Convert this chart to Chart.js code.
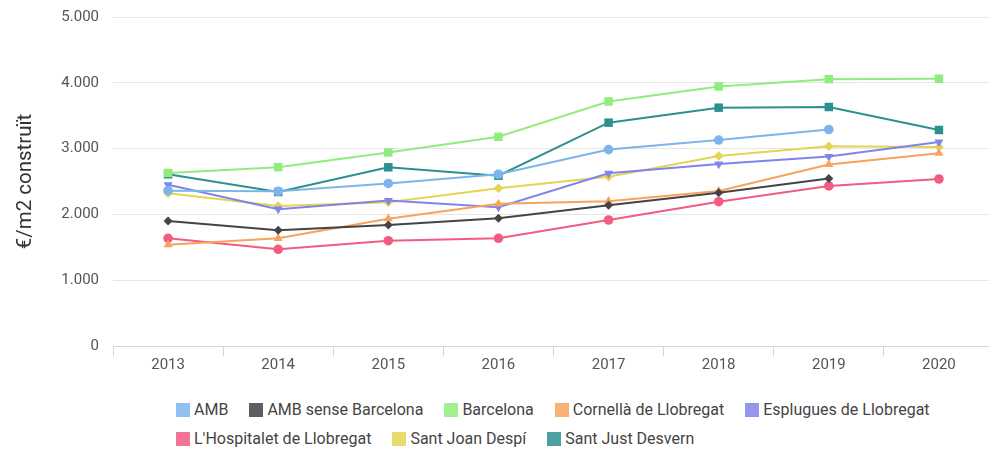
<!DOCTYPE html>
<html>
<head>
<meta charset="utf-8">
<script src="https://cdn.jsdelivr.net/npm/chart.js@4/dist/chart.umd.min.js"></script>
<style>
  html, body { margin: 0; padding: 0; background: #fff; overflow: hidden; width: 989px; height: 450px; }
  #wrap { position: absolute; left: 0; top: 0; width: 1000px; height: 380px; }
  #legend { position: absolute; left: 176px; top: 395px; width: 790px; display: flex; flex-wrap: wrap;
            font-family: Roboto, sans-serif; font-size: 16px; color: #444; }
  .item { display: flex; align-items: center; height: 29px; margin-right: 21px; white-space: nowrap; }
  .swatch { width: 14px; height: 14px; margin-right: 4px; opacity: 0.85; }
</style>
</head>
<body>
<div id="wrap"><canvas id="c"></canvas></div>
<div id="legend"></div>
<script>
// Preu mitjà de l'habitatge (€/m2 construït), 2013-2020
const years = ['2013', '2014', '2015', '2016', '2017', '2018', '2019', '2020'];
const yTickLabels = ['0', '1.000', '2.000', '3.000', '4.000', '5.000'];

const seriesNames = ['AMB', 'AMB sense Barcelona', 'Barcelona', 'Cornellà de Llobregat',
  'Esplugues de Llobregat', "L'Hospitalet de Llobregat", 'Sant Joan Despí', 'Sant Just Desvern'];

const amb               = [2360, 2350, 2470, 2610, 2985, 3130, 3290, null];
const ambSenseBarcelona = [1900, 1760, 1840, 1940, 2140, 2330, 2545, null];
const barcelona         = [2630, 2718, 2942, 3180, 3716, 3945, 4055, 4062];
const cornella          = [1540, 1637, 1935, 2160, 2200, 2355, 2758, 2930];
const esplugues         = [2450, 2080, 2210, 2110, 2625, 2765, 2880, 3100];
const hospitalet        = [1637, 1470, 1600, 1637, 1915, 2193, 2432, 2538];
const santJoan          = [2320, 2128, 2184, 2397, 2573, 2888, 3035, 3025];
const santJust          = [2609, 2340, 2716, 2588, 3394, 3622, 3632, 3283];

const seriesValues = [amb, ambSenseBarcelona, barcelona, cornella, esplugues, hospitalet, santJoan, santJust];
const colors = ['#7cb5ec', '#434348', '#90ed7d', '#f7a35c', '#8085e9', '#f15c80', '#e4d354', '#2b908f'];
const markers = ['circle', 'rectRot', 'rect', 'triangle', 'triangle', 'circle', 'rectRot', 'rect'];
const markerRadius = [4.8, 4.5, 6, 5.2, 5.2, 4.8, 4.8, 6];
const markerRotation = [0, 0, 0, 0, 180, 0, 0, 0];

const datasets = seriesNames.map((name, i) => ({
  label: name,
  data: seriesValues[i],
  borderColor: colors[i],
  backgroundColor: colors[i],
  pointBackgroundColor: colors[i],
  pointBorderColor: colors[i],
  pointBorderWidth: 0,
  pointStyle: markers[i],
  pointRadius: markerRadius[i],
  pointRotation: markerRotation[i],
  borderWidth: 2,
  tension: 0,
  spanGaps: false
}));

const tickFont = { family: 'Roboto', size: 15 };

new Chart(document.getElementById('c'), {
  type: 'line',
  data: { labels: years, datasets },
  options: {
    responsive: true,
    maintainAspectRatio: false,
    animation: false,
    layout: { padding: { top: 17, right: 3, bottom: 6, left: 0 } },
    plugins: { legend: { display: false }, tooltip: { enabled: false } },
    scales: {
      x: {
        offset: true,
        grid: { offset: true, drawOnChartArea: false, drawTicks: true, tickLength: 10, color: '#d6d6d6' },
        border: { display: true, color: '#d6d6d6', width: 1 },
        ticks: { color: '#555', font: tickFont, padding: 0, maxRotation: 0 }
      },
      y: {
        min: 0, max: 5000,
        afterFit: (scale) => { scale.width = 113; scale.paddingTop = 0; scale.paddingBottom = 0; },
        grid: { color: '#e6e6e6', drawTicks: false },
        border: { display: false },
        ticks: {
          stepSize: 1000, color: '#555', font: tickFont, padding: 14,
          callback: (value, index) => yTickLabels[index]
        },
        title: {
          display: true, text: '€/m2 construït', color: '#333',
          font: { family: 'Roboto', size: 20.5 }, padding: { top: 14, bottom: 0 }
        }
      }
    }
  }
});

// Legend drawn as HTML from the same series names and colours
const legend = document.getElementById('legend');
seriesNames.forEach((name, i) => {
  const item = document.createElement('div');
  item.className = 'item';
  const sw = document.createElement('span');
  sw.className = 'swatch';
  sw.style.background = colors[i];
  const txt = document.createElement('span');
  txt.textContent = name;
  item.appendChild(sw);
  item.appendChild(txt);
  legend.appendChild(item);
});
</script>
</body>
</html>
